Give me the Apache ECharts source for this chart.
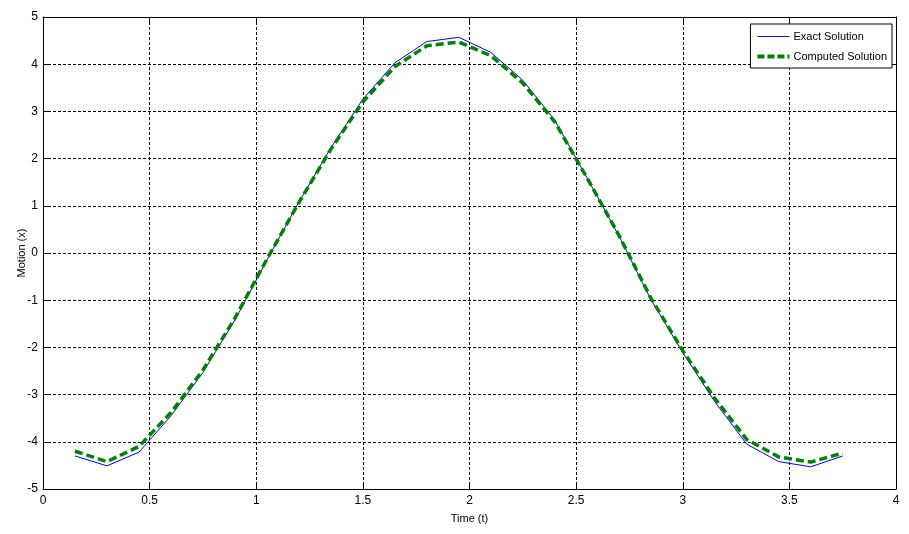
<!DOCTYPE html>
<html>
<head>
<meta charset="utf-8">
<script src="https://cdn.jsdelivr.net/npm/echarts@6/dist/echarts.min.js"></script>
<style>
  html, body { margin: 0; padding: 0; background: #fff; }
  #motion-chart { width: 909px; height: 534px; }
</style>
</head>
<body>
<div id="motion-chart"></div>
<script>
// values
const timeList = [0.15, 0.3, 0.45, 0.6, 0.75, 0.9, 1.05, 1.2, 1.35, 1.5, 1.65, 1.8, 1.95,
  2.1, 2.25, 2.4, 2.55, 2.7, 2.85, 3.0, 3.15, 3.3, 3.45, 3.6, 3.75]
const exactList = [-4.30, -4.51, -4.22, -3.45, -2.53, -1.42, -0.15, 1.08, 2.23, 3.26, 4.03, 4.48, 4.57,
  4.25, 3.66, 2.81, 1.60, 0.37, -0.98, -2.11, -3.15, -4.05, -4.42, -4.53, -4.30]
const computedList = [-4.20, -4.42, -4.10, -3.38, -2.48, -1.38, -0.13, 1.07, 2.20, 3.20, 3.95, 4.39, 4.47,
  4.18, 3.60, 2.78, 1.60, 0.38, -0.95, -2.07, -3.08, -3.95, -4.32, -4.43, -4.24]
const xTicks = [0, 0.5, 1, 1.5, 2, 2.5, 3, 3.5, 4]
const yTicks = [-5, -4, -3, -2, -1, 0, 1, 2, 3, 4, 5]

const font = '"Liberation Sans", Arial, sans-serif'

const chart = echarts.init(document.getElementById('motion-chart'))

const gridDash = {
  show: true,
  lineStyle: { color: '#000', type: [3, 2], width: 1 }
}

const option = {
  backgroundColor: '#fff',
  animation: false,
  grid: { left: 43, right: 13, top: 17, bottom: 45, outerBoundsMode: 'none', containLabel: false },
  legend: {
    orient: 'vertical',
    right: 17,
    top: 24,
    padding: [7, 5, 6, 5],
    itemGap: 9,
    itemWidth: 32,
    itemHeight: 10,
    backgroundColor: '#fff',
    borderColor: '#000',
    borderWidth: 1,
    borderRadius: 0,
    itemStyle: { opacity: 0 },
    textStyle: { fontFamily: font, fontSize: 11, color: '#000', padding: [0, 0, 0, -1] },
    data: [
      { name: 'Exact Solution', lineStyle: { width: 1, color: '#0000ff', type: 'solid' } },
      { name: 'Computed Solution', lineStyle: { width: 4, color: '#008000', type: [7, 3] } }
    ]
  },
  xAxis: [
    {
      type: 'value',
      min: 0,
      max: 4,
      interval: 0.5,
      name: 'Time (t)',
      nameLocation: 'middle',
      nameGap: 24,
      nameMoveOverlap: false,
      nameTextStyle: { fontFamily: font, fontSize: 11, color: '#000' },
      axisLine: { show: true, onZero: false, lineStyle: { color: '#000', width: 1 } },
      axisTick: { show: true, inside: true, length: 5, lineStyle: { color: '#000' } },
      axisLabel: {
        margin: 6,
        fontFamily: font,
        fontSize: 12,
        color: '#000',
        formatter: v => (xTicks.includes(v) ? String(v) : '')
      },
      splitLine: gridDash
    },
    {
      type: 'value',
      position: 'top',
      min: 0,
      max: 4,
      interval: 0.5,
      axisLine: { show: true, onZero: false, lineStyle: { color: '#000', width: 1 } },
      axisTick: { show: true, inside: true, length: 5, lineStyle: { color: '#000' } },
      axisLabel: { show: false },
      splitLine: { show: false }
    }
  ],
  yAxis: [
    {
      type: 'value',
      min: -5,
      max: 5,
      interval: 1,
      name: 'Motion (x)',
      nameLocation: 'middle',
      nameGap: 16,
      nameMoveOverlap: false,
      nameTextStyle: { fontFamily: font, fontSize: 11, color: '#000' },
      axisLine: { show: true, onZero: false, lineStyle: { color: '#000', width: 1 } },
      axisTick: { show: true, inside: true, length: 5, lineStyle: { color: '#000' } },
      axisLabel: {
        margin: 5,
        fontFamily: font,
        fontSize: 12,
        color: '#000',
        formatter: v => (yTicks.includes(v) ? String(v) : '')
      },
      splitLine: gridDash
    },
    {
      type: 'value',
      position: 'right',
      min: -5,
      max: 5,
      interval: 1,
      axisLine: { show: true, onZero: false, lineStyle: { color: '#000', width: 1 } },
      axisTick: { show: true, inside: true, length: 5, lineStyle: { color: '#000' } },
      axisLabel: { show: false },
      splitLine: { show: false }
    }
  ],
  series: [
    {
      name: 'Exact Solution',
      type: 'line',
      symbol: 'none',
      color: '#0000ff',
      lineStyle: { color: '#0000ff', width: 1 },
      data: timeList.map((t, i) => [t, exactList[i]]),
      z: 3
    },
    {
      name: 'Computed Solution',
      type: 'line',
      symbol: 'none',
      color: '#008000',
      lineStyle: { color: '#008000', width: 3.5, type: [8, 4] },
      data: timeList.map((t, i) => [t, computedList[i]]),
      z: 4
    }
  ]
}

chart.setOption(option)
</script>
</body>
</html>
